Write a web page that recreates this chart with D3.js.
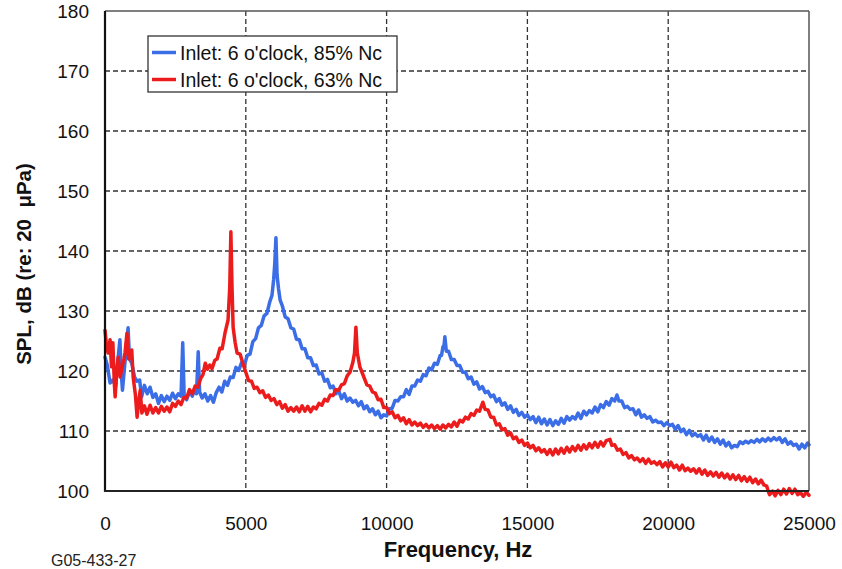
<!DOCTYPE html>
<html>
<head>
<meta charset="utf-8">
<script src="https://cdn.jsdelivr.net/npm/d3@7"></script>
<style>
  html, body { margin: 0; padding: 0; background: #fff; }
  svg { display: block; font-family: Arial, "Liberation Sans", sans-serif; }
</style>
</head>
<body>
<svg id="chart" width="842" height="569"></svg>
<script>
// ---- data ----
const xTicks = [0, 5000, 10000, 15000, 20000, 25000];
const yTicks = [100, 110, 120, 130, 140, 150, 160, 170, 180];
const seriesNames = ["Inlet: 6 o'clock, 85% Nc", "Inlet: 6 o'clock, 63% Nc"];
const seriesColors = ["#3a6de6", "#ec1c1c"];

// [frequency Hz, SPL dB]
const blue85 = [
  [0,122.3],[80,121],[180,118],[280,118.5],[380,117.5],[440,121],[530,125.2],[570,120.2],[620,116.8],
  [700,121],[820,127.2],[870,122],[950,121.3],[1050,119],[1130,118.3],[1230,118.5],
  [1300,115.7],[1400,117.6],[1500,116.2],[1600,117.3],[1700,115.6],[1800,116.2],[1900,114.6],[2000,115.9],
  [2100,114.9],[2200,115.8],[2300,115.1],[2400,116.3],[2500,115.4],[2600,116.2],[2700,115.8],[2760,124.7],
  [2810,116],[2900,115.2],[3000,116.6],[3100,115.8],[3200,117.1],[3250,116.2],[3310,123.2],[3360,116.5],
  [3450,115.5],[3550,116.2],[3650,115],[3750,115.9],[3850,114.8],[3950,116.4],[4050,117.3],[4150,116.5],
  [4250,118.3],[4350,117.6],[4450,119],[4550,118.9],[4650,120.6],[4750,120.1],[4850,121.4],[4950,121],
  [5050,122.6],[5150,122.8],[5250,124.9],[5350,125.4],[5450,127.2],[5550,127.6],[5650,129.2],[5750,129.6],
  [5850,131.5],[5930,132.6],[5990,135.3],[6030,138],[6070,142.2],[6110,136],[6160,133.8],[6220,131.8],
  [6300,130.8],[6400,129],[6500,128.7],[6600,127.2],[6700,127],[6800,125.3],[6900,125.2],[7000,123.7],
  [7100,123.7],[7200,122.2],[7300,122.2],[7400,120.9],[7500,121],[7600,119.5],[7700,119.7],[7800,118.3],
  [7900,118.6],[8000,117.2],[8100,117.5],[8200,116.2],[8300,116.7],[8400,115.4],[8500,116.2],[8600,115],
  [8700,115.5],[8800,114.8],[8900,115.1],[9000,114.2],[9100,114.9],[9200,113.7],[9300,114.2],[9400,113.2],
  [9500,113.7],[9600,112.7],[9700,113.3],[9800,112.2],[9900,112.7],[10000,112.5],[10100,113.7],[10200,113.8],
  [10300,115.1],[10400,115],[10500,115.7],[10600,115.7],[10700,116.9],[10800,116.1],[10900,117.5],[11000,117.5],
  [11100,118.5],[11200,118.3],[11300,119.4],[11400,119.2],[11500,120.5],[11600,120.2],[11700,121.3],[11800,121.1],
  [11900,122.6],[11950,122.6],[12000,124],[12040,124.3],[12070,125.7],[12120,123.3],[12200,123.3],[12300,121.9],
  [12400,121.9],[12500,120.9],[12600,120.9],[12700,119.8],[12800,119.8],[12900,118.7],[13000,119],[13100,117.8],
  [13200,118.2],[13300,117],[13400,117.4],[13500,116.4],[13600,116.6],[13700,115.7],[13800,116],[13900,114.9],
  [14000,115.4],[14100,114.3],[14200,114.7],[14300,113.6],[14400,114.2],[14500,113.1],[14600,113.6],[14700,112.6],
  [14800,113.1],[14900,112.3],[15000,112.7],[15100,111.9],[15200,112.4],[15300,111.4],[15400,112.3],[15500,111.2],
  [15600,112],[15700,111],[15800,111.9],[15900,110.9],[16000,111.7],[16100,111.1],[16200,112.1],[16300,111.3],
  [16400,112.4],[16500,111.8],[16600,112.4],[16700,112],[16800,113],[16900,112.1],[17000,113.3],[17100,112.7],
  [17200,113.4],[17300,113],[17400,114],[17500,113.2],[17600,114.4],[17700,113.9],[17800,114.9],[17900,114.3],
  [18000,115.4],[18100,115],[18180,116],[18250,115],[18350,115],[18450,113.9],[18550,114.1],[18650,113.6],
  [18750,113.7],[18850,112.7],[18950,113.5],[19050,112.3],[19150,112.7],[19250,112.1],[19350,112.4],[19450,111.5],
  [19550,111.8],[19650,111.4],[19750,111.5],[19850,110.9],[19950,111.4],[20050,110.9],[20150,111.1],[20250,110.3],
  [20350,110.9],[20450,109.9],[20550,110.3],[20650,109.4],[20750,110.1],[20850,109.2],[20950,109.6],[21050,109.1],
  [21150,109.4],[21250,108.5],[21350,109.3],[21450,108.3],[21550,109],[21650,108.1],[21750,108.7],[21850,107.8],
  [21950,108.5],[22050,107.5],[22150,108.1],[22250,107.2],[22350,107.6],[22450,107.4],[22550,108.2],[22650,107.9],
  [22750,108.3],[22850,108],[22950,108.4],[23050,108.1],[23150,108.6],[23250,108.2],[23350,108.7],[23450,108.3],
  [23550,108.8],[23650,108.4],[23750,108.9],[23850,108.5],[23950,108.9],[24050,108.1],[24150,108.7],[24250,107.8],
  [24350,108.2],[24450,107.6],[24550,107.8],[24650,107],[24750,107.8],[24850,107.2],[24950,108],[25000,107.7]
];

const red63 = [
  [0,126.8],[60,124],[110,123],[180,125.2],[230,120.7],[280,124.7],[330,118],[360,115.7],[420,120],
  [470,122.3],[540,119],[610,120.7],[670,122],[710,123],[780,126.3],[840,122],[890,122.3],[950,123.5],
  [1000,119],[1080,116],[1140,112.3],[1200,115],[1250,116.8],[1310,113],[1400,114.2],[1490,112.8],
  [1600,114.3],[1700,113],[1800,113.9],[1900,113],[2000,114.1],[2100,113.3],[2200,114],[2300,113.2],
  [2400,114.6],[2500,114.1],[2600,115],[2700,114.4],[2800,115.6],[2900,115.5],[3000,116.9],[3100,116.2],
  [3200,117.5],[3300,117.3],[3400,118.8],[3480,119.4],[3560,121.3],[3640,120.3],[3720,121],[3800,120.4],
  [3900,121.8],[3980,122],[4080,123.8],[4160,123.7],[4260,126.3],[4370,128.5],[4430,134],[4470,143.2],
  [4510,134],[4550,127.3],[4620,124.8],[4690,123],[4800,122.8],[4900,121.2],[5000,119.8],[5100,118.4],
  [5200,118.3],[5300,117.1],[5400,117.3],[5500,116.4],[5600,116.7],[5700,115.6],[5800,116],[5900,115.1],
  [6000,115.4],[6100,114.4],[6200,114.9],[6300,113.8],[6400,114.4],[6500,113.3],[6600,113.9],[6700,113.3],
  [6800,114],[6900,113.2],[7000,114.2],[7100,113.3],[7200,114.1],[7300,113.2],[7400,114],[7500,113.7],
  [7600,114.6],[7700,114.3],[7800,115.3],[7900,115],[8000,116],[8100,115.9],[8200,116.9],[8300,116.8],
  [8400,117.7],[8500,117.9],[8600,119.2],[8700,119.8],[8800,121.4],[8860,123],[8910,127.3],[8960,123],
  [9050,120.7],[9150,119.5],[9300,117.7],[9400,117.5],[9500,116.5],[9600,116.3],[9700,115.2],[9800,115.3],
  [9900,113.9],[10000,113.9],[10100,112.9],[10200,113.2],[10300,112.2],[10400,112.6],[10500,111.7],[10600,112.2],
  [10700,111.2],[10800,111.9],[10900,111],[11000,111.5],[11100,110.9],[11200,111.3],[11300,110.6],[11400,111.1],
  [11500,110.5],[11600,111],[11700,110.4],[11800,110.9],[11900,110.3],[12000,111],[12100,110.5],[12200,111.1],
  [12300,110.7],[12400,111.5],[12500,110.8],[12600,111.8],[12700,111.5],[12800,112.3],[12900,112],[13000,112.9],
  [13100,112.6],[13200,113.5],[13300,113.3],[13420,114.8],[13500,113.6],[13600,113.5],[13700,112.3],[13800,112.3],
  [13900,111],[14000,111.2],[14100,110.2],[14200,110.4],[14300,109.3],[14400,109.7],[14500,108.7],[14600,109],
  [14700,108.1],[14800,108.5],[14900,107.6],[15000,108],[15100,107.2],[15200,107.6],[15300,106.7],[15400,107.2],
  [15500,106.5],[15600,106.9],[15700,106.1],[15800,106.9],[15900,106],[16000,107],[16100,106.2],[16200,107.1],
  [16300,106.3],[16400,107.3],[16500,106.5],[16600,107.4],[16700,106.7],[16800,107.6],[16900,106.8],[17000,107.7],
  [17100,107],[17200,107.9],[17300,107.2],[17400,108.1],[17500,107.3],[17600,108.2],[17700,107.5],[17800,108.4],
  [17930,108.6],[18000,107.6],[18100,107.7],[18200,106.8],[18300,107],[18400,106.1],[18500,106.4],[18600,105.5],
  [18700,105.9],[18800,105.2],[18900,105.5],[19000,104.9],[19100,105.4],[19200,104.6],[19300,105.3],[19400,104.6],
  [19500,104.9],[19600,104.4],[19700,104.9],[19800,104],[19900,104.7],[20000,104],[20100,104.8],[20200,103.9],
  [20300,104.3],[20400,103.5],[20500,104.3],[20600,103.4],[20700,103.8],[20800,103.3],[20900,103.7],[21000,103],
  [21100,103.7],[21200,102.8],[21300,103.5],[21400,102.6],[21500,103.2],[21600,102.5],[21700,103.1],[21800,102.3],
  [21900,103],[22000,102.2],[22100,102.8],[22200,102],[22300,102.7],[22400,101.9],[22500,102.6],[22600,101.7],
  [22700,102.4],[22800,101.6],[22900,102.3],[23000,101.4],[23100,102],[23200,101.2],[23300,101.8],[23400,101],
  [23500,100.8],[23550,100],[23600,99.4],[23700,100],[23800,99.2],[23900,100.1],[24000,99.4],[24100,100.3],
  [24200,99.5],[24300,100.4],[24400,99.6],[24500,100.3],[24600,99.4],[24700,99.7],[24800,99.1],[24900,99.8],
  [25000,99.3]
];

// ---- layout ----
const svg = d3.select("#chart");
const L = 105, R = 809, T = 11, B = 491;
const x = d3.scaleLinear().domain([0, 25000]).range([L, R]);
const y = d3.scaleLinear().domain([100, 180]).range([B, T]);

// grid
const grid = svg.append("g");
grid.selectAll("line.h").data(yTicks.filter(d => d > 100 && d < 180)).enter()
  .append("line").attr("x1", L).attr("x2", R)
  .attr("y1", d => y(d)).attr("y2", d => y(d))
  .attr("stroke", "#333").attr("stroke-width", 1.3).attr("stroke-dasharray", "5,3");
grid.selectAll("line.v").data(xTicks.filter(d => d > 0 && d < 25000)).enter()
  .append("line").attr("y1", T).attr("y2", B)
  .attr("x1", d => x(d)).attr("x2", d => x(d))
  .attr("stroke", "#333").attr("stroke-width", 1.3).attr("stroke-dasharray", "5,3");

// axes (labels via d3 axes, domain hidden)
const yAxis = svg.append("g").attr("transform", `translate(${L - 16},0)`)
  .call(d3.axisLeft(y).tickValues(yTicks).tickSize(0).tickPadding(0).tickFormat(d3.format("d")));
yAxis.select(".domain").remove();
yAxis.selectAll("text").attr("font-size", 19).attr("fill", "#111")
  .attr("font-family", "Arial, 'Liberation Sans', sans-serif").attr("dy", "0.36em");

const xAxis = svg.append("g").attr("transform", `translate(0,${B})`)
  .call(d3.axisBottom(x).tickValues(xTicks).tickSize(0).tickPadding(0).tickFormat(d3.format("d")));
xAxis.select(".domain").remove();
xAxis.selectAll("text").attr("font-size", 19).attr("fill", "#111")
  .attr("font-family", "Arial, 'Liberation Sans', sans-serif").attr("dy", null).attr("y", 39);

// series lines
const line = d3.line().x(d => x(d[0])).y(d => y(d[1])).curve(d3.curveLinear);
const series = [blue85, red63];
svg.append("g").selectAll("path").data(series).enter().append("path")
  .attr("d", line).attr("fill", "none")
  .attr("stroke", (d, i) => seriesColors[i]).attr("stroke-width", 3.5)
  .attr("stroke-linejoin", "round").attr("stroke-linecap", "round");

// frame
svg.append("line").attr("x1", L).attr("x2", R).attr("y1", T).attr("y2", T).attr("stroke", "#555").attr("stroke-width", 1.5);
svg.append("line").attr("x1", R).attr("x2", R).attr("y1", T).attr("y2", B).attr("stroke", "#555").attr("stroke-width", 1.5);
svg.append("line").attr("x1", L).attr("x2", L).attr("y1", T).attr("y2", B + 1).attr("stroke", "#111").attr("stroke-width", 2.2);
svg.append("line").attr("x1", L - 1).attr("x2", R).attr("y1", B).attr("y2", B).attr("stroke", "#222").attr("stroke-width", 2.2);

// legend
const lg = svg.append("g");
lg.append("rect").attr("x", 148).attr("y", 36).attr("width", 249).attr("height", 56)
  .attr("fill", "#fff").attr("stroke", "#333").attr("stroke-width", 1.3);
seriesNames.forEach((n, i) => {
  const cy = 52.5 + i * 27;
  lg.append("line").attr("x1", 152).attr("x2", 176).attr("y1", cy).attr("y2", cy)
    .attr("stroke", seriesColors[i]).attr("stroke-width", 3.5);
  lg.append("text").attr("x", 180).attr("y", cy).attr("dy", "0.36em")
    .attr("font-size", 19.5).attr("fill", "#111").text(n);
});

// axis titles
svg.append("text").attr("x", 458).attr("y", 557).attr("text-anchor", "middle")
  .attr("font-size", 22).attr("font-weight", "bold").attr("fill", "#111").text("Frequency, Hz");
svg.append("text").attr("transform", "translate(31,264) rotate(-90)").attr("text-anchor", "middle")
  .attr("font-size", 20.5).attr("font-weight", "bold").attr("fill", "#111")
  .attr("xml:space", "preserve").style("white-space", "pre").text("SPL, dB (re: 20  \u03BCPa)");

svg.append("text").attr("x", 51).attr("y", 566).attr("font-size", 16).attr("fill", "#222")
  .text("G05-433-27");
</script>
</body>
</html>
